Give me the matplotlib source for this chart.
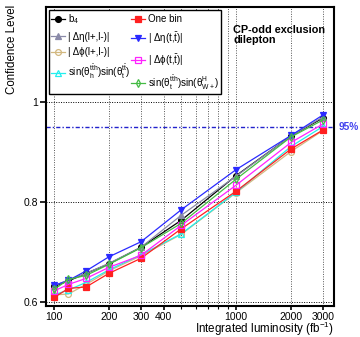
import matplotlib
matplotlib.use('Agg')
import matplotlib.pyplot as plt
from matplotlib.ticker import FixedLocator, NullFormatter, FixedFormatter

plt.rcParams['font.family'] = ['Liberation Sans', 'DejaVu Sans']
plt.rcParams['mathtext.fontset'] = 'custom'
plt.rcParams['mathtext.rm'] = 'Liberation Sans'
plt.rcParams['mathtext.it'] = 'Liberation Sans'

# integrated luminosity points (fb^-1)
lumi = [100, 120, 150, 200, 300, 500, 1000, 2000, 3000]

# confidence level per observable
cl_b4 = [0.632, 0.643, 0.658, 0.677, 0.710, 0.764, 0.853, 0.932, 0.968]
cl_onebin = [0.610, 0.628, 0.631, 0.658, 0.688, 0.747, 0.822, 0.906, 0.944]
cl_deta_ll = [0.633, 0.645, 0.658, 0.678, 0.710, 0.774, 0.852, 0.932, 0.970]
cl_deta_tt = [0.634, 0.644, 0.663, 0.691, 0.721, 0.785, 0.865, 0.933, 0.974]
cl_dphi_ll = [0.615, 0.617, 0.636, 0.663, 0.693, 0.736, 0.819, 0.901, 0.943]
cl_dphi_tt = [0.623, 0.636, 0.648, 0.670, 0.694, 0.754, 0.834, 0.919, 0.956]
cl_sin_h = [0.615, 0.625, 0.640, 0.665, 0.695, 0.737, 0.820, 0.911, 0.951]
cl_sin_w = [0.626, 0.646, 0.654, 0.676, 0.709, 0.758, 0.846, 0.930, 0.964]

series = [
    (cl_b4, r'b$_4$', 'black', 'o', 'full'),
    (cl_deta_ll, '| Δη(l+,l-)|', '#8a8aa8', '^', 'full'),
    (cl_dphi_ll, '| Δϕ(l+,l-)|', '#d2b880', 'o', 'none'),
    (cl_sin_h, r'sin(θ$_h^{t\bar{t}h}$)sin(θ$_t^{t\bar{t}}$)', '#22eeee', '^', 'none'),
    (cl_onebin, 'One bin', '#ff2020', 's', 'full'),
    (cl_deta_tt, r'| Δη(t,$\bar{t}$)|', '#2a2aff', 'v', 'full'),
    (cl_dphi_tt, r'| Δϕ(t,$\bar{t}$)|', '#ff22ff', 's', 'none'),
    (cl_sin_w, r'sin(θ$_t^{t\bar{t}h}$)sin(θ$_{W+}^{H}$)', '#44bb44', 'd', 'none'),
]

fig = plt.figure(figsize=(3.6, 3.37), dpi=100)
ax = fig.add_axes([0.127, 0.092, 0.801, 0.887])

for vals, label, color, marker, fill in series:
    ax.plot(lumi, vals, color=color, lw=0.9, marker=marker, ms=4.2,
            fillstyle=fill, mec=color, mew=0.9, label=label, zorder=3)

ax.axhline(0.95, color='#2222cc', lw=1.0, ls=(0, (3, 1.5, 1, 1.5)), zorder=2)

ax.set_xscale('log')
ax.set_xlim(90, 3450)
ax.set_ylim(0.593, 1.189)

grid_x = [100, 200, 300, 400, 500, 600, 700, 800, 900, 1000, 2000, 3000]
for gx in grid_x:
    ax.axvline(gx, color='#555555', lw=0.7, ls=(0, (1, 1.5)), zorder=1)
for gy in [0.6, 0.8, 1.0]:
    ax.axhline(gy, color='black', lw=0.7, ls=(0, (1, 1.5)), zorder=1)

xt = [100, 200, 300, 400, 1000, 2000, 3000]
ax.xaxis.set_major_locator(FixedLocator(xt))
ax.xaxis.set_major_formatter(FixedFormatter([str(v) for v in xt]))
ax.xaxis.set_minor_locator(FixedLocator([500, 600, 700, 800, 900]))
ax.xaxis.set_minor_formatter(NullFormatter())
ax.set_yticks([0.6, 0.8, 1.0])
ax.set_yticklabels(['0.6', '0.8', '1'])
ax.tick_params(axis='both', labelsize=7.5, width=1.2, length=4, direction='out', pad=1.5)
ax.tick_params(axis='x', length=3, pad=1)
ax.tick_params(axis='x', which='minor', length=2, width=0.8)

for sp in ax.spines.values():
    sp.set_linewidth(1.5)

fig.text(0.034, 0.985, 'Confidence Level', rotation=90, fontsize=8.3,
         ha='center', va='top')
ax.set_xlabel(r'Integrated luminosity (fb$^{-1}$)', fontsize=8.4, loc='right', labelpad=-1)

ax.text(0.65, 0.94, 'CP-odd exclusion\ndilepton', transform=ax.transAxes,
        fontsize=7.8, fontweight='bold', va='top', ha='left', linespacing=1.05)
ax.text(1.015, 0.95, '95%', transform=ax.get_yaxis_transform(), fontsize=7.3,
        fontweight='bold', color='#4444ee', va='center', ha='left', clip_on=False)

leg = ax.legend(loc='upper left', bbox_to_anchor=(0.012, 0.99), ncol=2,
                fontsize=7.0, frameon=True, fancybox=False, borderaxespad=0,
                handlelength=1.4, handletextpad=0.3, columnspacing=0.15,
                labelspacing=0.6, borderpad=0.2)
leg.get_frame().set_edgecolor('black')
leg.get_frame().set_linewidth(1.0)
leg.get_frame().set_alpha(1)

fig.savefig('out.png', dpi=100)
